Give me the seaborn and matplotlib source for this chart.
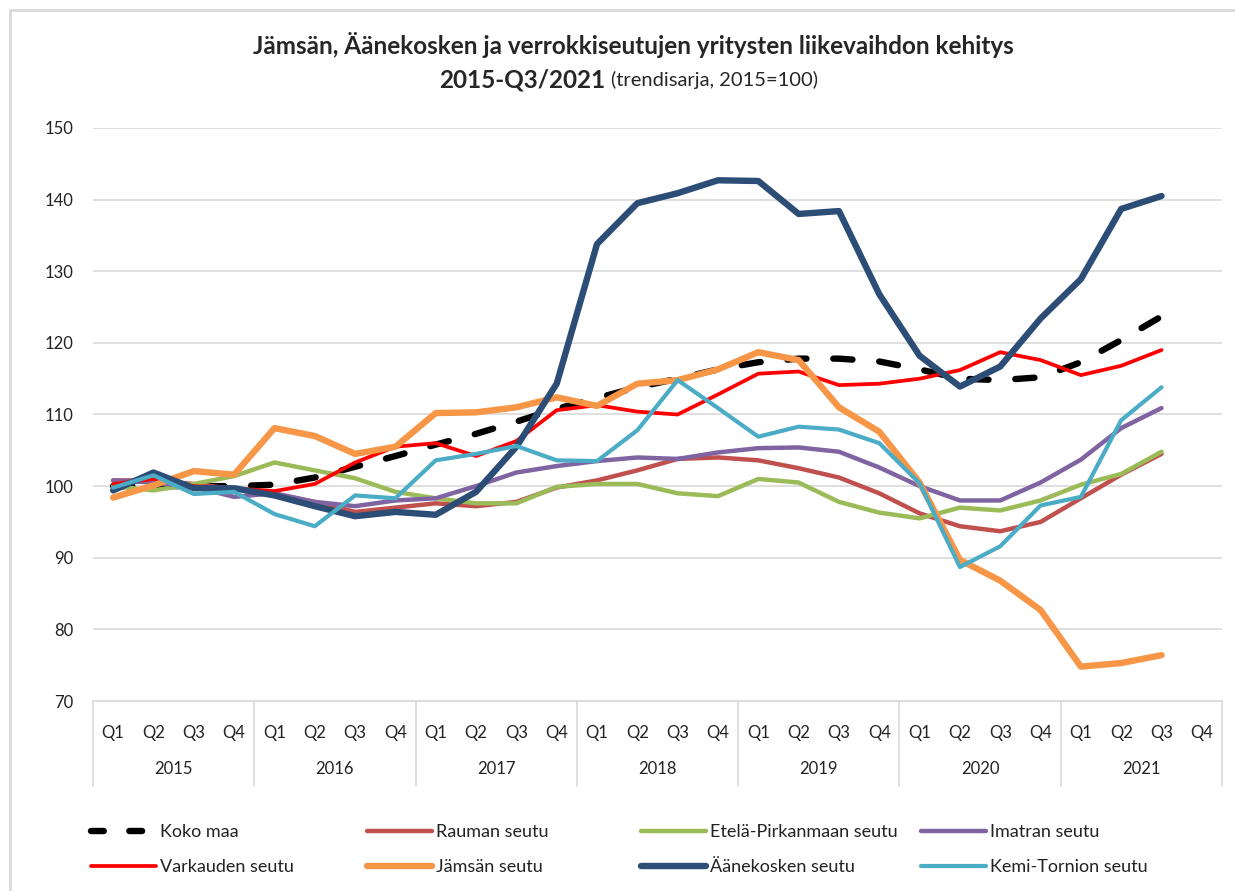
import numpy as np
import pandas as pd
import matplotlib.pyplot as plt
import seaborn as sns
from matplotlib.lines import Line2D
from matplotlib.patches import Rectangle

# Quarterly data 2015 Q1 .. 2021 Q3 (trend series, 2015 = 100)
years = ["2015", "2016", "2017", "2018", "2019", "2020", "2021"]
quarters = ["Q1", "Q2", "Q3", "Q4"]

koko_maa = [100.0, 100.0, 100.0, 100.0, 100.2, 101.2, 102.7, 104.2, 105.8, 107.3,
            109.0, 110.8, 112.3, 113.8, 115.0, 116.3, 117.3, 117.8, 117.8, 117.4,
            116.3, 115.0, 114.8, 115.2, 117.3, 120.4, 123.7]
rauman = [100.8, 100.8, 100.3, 99.6, 98.9, 97.8, 96.4, 97.0, 97.6, 97.2,
          97.8, 99.8, 100.8, 102.2, 103.8, 104.0, 103.6, 102.5, 101.2, 99.0,
          96.2, 94.4, 93.7, 95.0, 98.3, 101.6, 104.5]
etela_pirkanmaan = [100.0, 99.4, 100.3, 101.4, 103.3, 102.2, 101.1, 99.2, 98.3, 97.6,
                    97.6, 99.9, 100.3, 100.3, 99.0, 98.6, 101.0, 100.5, 97.8, 96.3,
                    95.5, 97.0, 96.6, 98.0, 100.2, 101.7, 104.8]
imatran = [100.8, 100.5, 99.9, 98.5, 99.0, 97.8, 97.2, 98.0, 98.3, 100.0,
           101.9, 102.8, 103.5, 104.0, 103.8, 104.7, 105.3, 105.4, 104.8, 102.6,
           100.0, 98.0, 98.0, 100.5, 103.7, 108.1, 110.9]
varkauden = [100.3, 101.0, 100.0, 99.7, 99.3, 100.3, 103.3, 105.5, 106.0, 104.2,
             106.3, 110.6, 111.3, 110.4, 110.0, 112.8, 115.7, 116.0, 114.1, 114.3,
             115.0, 116.2, 118.7, 117.6, 115.5, 116.8, 119.0]
jamsan = [98.4, 100.1, 102.1, 101.6, 108.1, 107.0, 104.5, 105.5, 110.2, 110.3,
          111.0, 112.4, 111.2, 114.3, 114.8, 116.3, 118.7, 117.6, 111.0, 107.6,
          100.5, 89.7, 86.8, 82.7, 74.8, 75.3, 76.4]
aanekosken = [99.4, 101.9, 99.7, 99.7, 98.7, 97.2, 95.8, 96.4, 96.0, 99.2,
              105.5, 114.3, 133.8, 139.5, 140.9, 142.7, 142.6, 138.0, 138.4, 126.8,
              118.2, 113.9, 116.7, 123.4, 128.9, 138.7, 140.5]
kemi_tornion = [99.8, 101.5, 98.9, 99.2, 96.1, 94.4, 98.7, 98.3, 103.6, 104.5,
                105.6, 103.6, 103.5, 107.8, 114.8, 110.9, 106.9, 108.3, 107.9, 106.0,
                100.4, 88.7, 91.6, 97.3, 98.5, 109.2, 113.8]

names = ["Koko maa", "Rauman seutu", "Etelä-Pirkanmaan seutu", "Imatran seutu",
         "Varkauden seutu", "Jämsän seutu", "Äänekosken seutu", "Kemi-Tornion seutu"]
values = [koko_maa, rauman, etela_pirkanmaan, imatran,
          varkauden, jamsan, aanekosken, kemi_tornion]
colors = ["#000000", "#C0504D", "#9BBB59", "#8064A2",
          "#FF0000", "#F79646", "#2C4D75", "#4BACC6"]
widths = [4.6, 3.2, 3.2, 3.2, 2.7, 4.6, 4.6, 3.0]

sns.set_style("white")
plt.rcParams["font.family"] = ["Lato", "DejaVu Sans"]

fig = plt.figure(figsize=(12.35, 8.91), dpi=100)
ax = fig.add_axes([93 / 1235, 1 - 701 / 891, (1222 - 93) / 1235, (701 - 128) / 891])

n_cat = len(years) * len(quarters)
for name, vals, col, lw in zip(names, values, colors, widths):
    df = pd.DataFrame({"x": np.arange(len(vals)), "y": vals})
    if name == "Koko maa":
        sns.lineplot(data=df, x="x", y="y", ax=ax, color=col, linewidth=lw,
                     linestyle=(0, (3.0, 4.2)), dash_capstyle="round")
    else:
        sns.lineplot(data=df, x="x", y="y", ax=ax, color=col, linewidth=lw,
                     solid_joinstyle="round", solid_capstyle="round")

ax.set_xlim(-0.5, n_cat - 0.5)
ax.set_ylim(70, 150)
ax.set_yticks(range(70, 151, 10))
ax.grid(axis="y", color="#D9D9D9", linewidth=1.2)
ax.set_axisbelow(True)
for s in ["top", "right", "left"]:
    ax.spines[s].set_visible(False)
ax.spines["bottom"].set_color("#D9D9D9")
ax.spines["bottom"].set_linewidth(1.2)
ax.tick_params(axis="y", length=0, pad=14, labelsize=12, labelcolor="#222222")
ax.set_xticks(range(n_cat))
ax.set_xticklabels(quarters * len(years))
ax.tick_params(axis="x", length=0, pad=17, labelsize=12, labelcolor="#222222")
ax.set_xlabel("")
ax.set_ylabel("")

# year labels and separators below the quarter labels
trans = ax.get_xaxis_transform()
for i, yr in enumerate(years):
    ax.text(i * 4 + 1.5, -0.118, yr, transform=trans, ha="center", va="center",
            fontsize=12, color="#222222")
for k in range(len(years) + 1):
    ax.plot([k * 4 - 0.5, k * 4 - 0.5], [0, -0.148], transform=trans,
            color="#D9D9D9", linewidth=1.2, clip_on=False)

# title
fig.text(633 / 1235, 1 - 45 / 891, "Jämsän, Äänekosken ja verrokkiseutujen yritysten liikevaihdon kehitys",
         ha="center", va="center", fontsize=17.5, fontweight="bold")
fig.text(605 / 1235, 1 - 80 / 891, "2015-Q3/2021", ha="right", va="center",
         fontsize=17.5, fontweight="bold")
fig.text(611 / 1235, 1 - 80 / 891, "(trendisarja, 2015=100)", ha="left", va="center",
         fontsize=14.5)

# legend: four equal columns, two rows
handles = []
for name, col, lw in zip(names, colors, widths):
    if name == "Koko maa":
        h = Line2D([], [], color=col, linewidth=lw, linestyle=(0, (2.0, 4.0)),
                   dash_capstyle="round")
    else:
        h = Line2D([], [], color=col, linewidth=lw, solid_capstyle="round")
    handles.append(h)
col_x = [84, 360, 634, 914]
for j in range(4):
    leg = fig.legend([handles[j], handles[j + 4]], [names[j], names[j + 4]],
                     loc="upper left", bbox_to_anchor=(col_x[j] / 1235, 1 - 817 / 891),
                     frameon=False, fontsize=13, handlelength=3.6, handletextpad=0.2,
                     labelspacing=1.05, borderaxespad=0)
    for t in leg.get_texts():
        t.set_color("#222222")

# chart border
fig.patches.append(Rectangle((10 / 1235, -0.05), 1.2, 1 - 10 / 891 + 0.05,
                             transform=fig.transFigure, fill=False,
                             edgecolor="#D9D9D9", linewidth=2))

fig.savefig("out.png", dpi=100)
